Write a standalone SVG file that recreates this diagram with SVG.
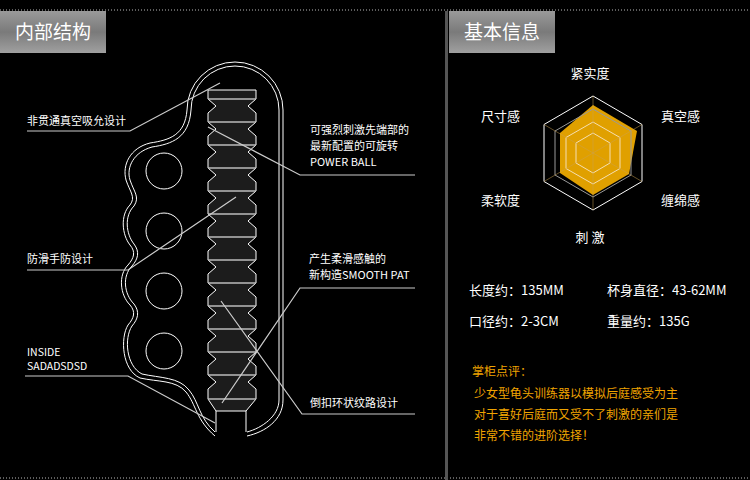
<svg xmlns="http://www.w3.org/2000/svg" width="750" height="480" viewBox="0 0 750 480">
<defs>
<linearGradient id="tab" x1="0" y1="0" x2="0" y2="1">
<stop offset="0" stop-color="#9a9a9a"/><stop offset="0.5" stop-color="#7a7a7a"/><stop offset="1" stop-color="#a0a0a0"/>
</linearGradient>
<style>
.t{font-family:"Noto Sans CJK SC","Liberation Sans",sans-serif;font-size:11px;fill:#fff}
.o{font-family:"Noto Sans CJK SC","Liberation Sans",sans-serif;font-size:12px;fill:#f0a400}
.r{font-family:"Noto Sans CJK SC","Liberation Sans",sans-serif;font-size:13px;fill:#fff}
.h{font-family:"Noto Sans CJK SC","Liberation Sans",sans-serif;font-size:19px;fill:#fff}
.ld{stroke:#ccc;stroke-width:1.2;fill:none}
.sh{stroke:#fff;stroke-width:1;fill:none}
</style>
</defs>
<rect width="750" height="480" fill="#000"/>
<line x1="0" y1="10" x2="750" y2="10" stroke="#bbb" stroke-dasharray="1,2"/>
<line x1="0" y1="478" x2="750" y2="478" stroke="#bbb" stroke-dasharray="1,2"/>
<rect x="445" y="11" width="3" height="469" fill="#555"/>
<g id="tab1"><rect x="0" y="11" width="106" height="42" fill="url(#tab)"/><text class="h" x="53" y="39" text-anchor="middle">内部结构</text></g>
<g id="tab2"><rect x="449" y="11" width="106" height="42" fill="url(#tab)"/><text class="h" x="502" y="39" text-anchor="middle">基本信息</text></g>

<g id="device">
<path class="sh" d="M283,400 L283,110 A48,48 0 0 0 187,110 C185,135 170,140 150,143 C130,148 122,165 126,180 C130,192 136,197 130,205 C120,215 122,235 130,245 C136,252 134,258 128,265 C118,275 120,295 130,305 C136,312 134,318 128,325 C120,338 122,370 140,378 C158,382 176,380 186,392 C196,404 196,420 215,436"/>
<path class="sh" d="M279,400 L279,110 A44,44 0 0 0 191,110 C189,138 172,144 152,147 C134,152 126,167 130,180 C134,192 140,197 134,206 C124,216 126,234 134,244 C140,252 138,259 132,266 C122,276 124,294 134,304 C140,312 138,319 132,326 C124,338 126,366 142,374 C160,378 179,377 189,390 C199,402 199,418 215,432"/>
<path class="sh" d="M283,400 C283,420 265,432 247,436 M279,400 C279,416 262,428 247,432"/>
<circle class="sh" cx="164" cy="171" r="18"/><circle class="sh" cx="164" cy="231" r="18"/>
<circle class="sh" cx="164" cy="291" r="18"/><circle class="sh" cx="164" cy="351" r="18"/>
<path fill="#1c1c1c" stroke="#fff" stroke-width="1" d="M208,90 L256,90 L256,99 L248,106 L256,113 L256,122 L248,129 L256,136 L256,145 L248,152 L256,159 L256,168 L248,175 L256,182 L256,191 L248,198 L256,205 L256,214 L248,221 L256,228 L256,237 L248,244 L256,251 L256,260 L248,267 L256,274 L256,283 L248,290 L256,297 L256,306 L248,313 L256,320 L256,329 L248,336 L256,343 L256,352 L248,359 L256,366 L256,375 L248,382 L256,389 L256,399 L246,411 L216,411 L208,399 L208,389 L216,382 L208,375 L208,366 L216,359 L208,352 L208,343 L216,336 L208,329 L208,320 L216,313 L208,306 L208,297 L216,290 L208,283 L208,274 L216,267 L208,260 L208,251 L216,244 L208,237 L208,228 L216,221 L208,214 L208,205 L216,198 L208,191 L208,182 L216,175 L208,168 L208,159 L216,152 L208,145 L208,136 L216,129 L208,122 L208,113 L216,106 L208,99 Z"/>
<path class="sh" d="M216,411V432M246,411V432"/>
<path stroke="#bbb" stroke-width="1.5" d="M208,99H256M208,122H256M208,145H256M208,168H256M208,191H256M208,214H256M208,237H256M208,260H256M208,283H256M208,306H256M208,329H256M208,352H256M208,375H256M208,399H256"/>
</g>

<g id="connectors">
<polyline class="ld" points="27,131 130,131 220,83"/>
<polyline class="ld" points="415,175 300,175 208,127"/>
<polyline class="ld" points="27,270 128,270 236,197"/>
<polyline class="ld" points="415,288 300,288 222,403"/>
<polyline class="ld" points="25,376 128,376 215,423"/>
<polyline class="ld" points="415,414 302,414 221,301"/>
</g>

<g id="labels">
<text class="t" x="27" y="125">非贯通真空吸允设计</text>
<text class="t" x="310" y="134">可强烈刺激先端部的</text>
<text class="t" x="310" y="150">最新配置的可旋转</text>
<text class="t" x="310" y="166">POWER BALL</text>
<text class="t" x="27" y="263">防滑手防设计</text>
<text class="t" x="309" y="263">产生柔滑感触的</text>
<text class="t" x="309" y="279">新构造SMOOTH PAT</text>
<text class="t" x="27" y="356" style="font-size:10.5px">INSIDE</text>
<text class="t" x="27" y="370" style="font-size:10.5px">SADADSDSD</text>
<text class="t" x="310" y="407">倒扣环状纹路设计</text>
</g>

<g id="radar">
<polygon points="593,96 642,124.5 642,181.5 593,210 544,181.5 544,124.5" fill="none" stroke="#fff"/>
<polygon points="593,105 637,131 629,174 593,195 560,173 560,133" fill="#e0a000"/>
<polygon points="593,109 631,131 631,175 593,197 555,175 555,131" fill="none" stroke="#999"/>
<polygon points="593,122 620,137.5 620,168.5 593,184 566,168.5 566,137.5" fill="none" stroke="#f5deb0"/>
<polygon points="593,133 610,143 610,163 593,173 576,163 576,143" fill="none" stroke="#f5deb0"/>
<path d="M593,96V210M544,124.5L642,181.5M642,124.5L544,181.5" stroke="#caa050" stroke-width="0.5"/>
<text class="r" x="590" y="78" text-anchor="middle">紧实度</text>
<text class="r" x="661" y="121">真空感</text>
<text class="r" x="661" y="205">缠绵感</text>
<text class="r" x="590" y="242" text-anchor="middle">刺 激</text>
<text class="r" x="481" y="205">柔软度</text>
<text class="r" x="481" y="121">尺寸感</text>
</g>

<g id="info">
<text class="r" x="469" y="295">长度约：135MM</text>
<text class="r" x="607" y="295">杯身直径：43-62MM</text>
<text class="r" x="469" y="326">口径约：2-3CM</text>
<text class="r" x="607" y="326">重量约：135G</text>
<text class="o" x="472" y="376">掌柜点评：</text>
<text class="o" x="474" y="398">少女型龟头训练器以模拟后庭感受为主</text>
<text class="o" x="474" y="419">对于喜好后庭而又受不了刺激的亲们是</text>
<text class="o" x="474" y="440">非常不错的进阶选择！</text>
</g>
</svg>
